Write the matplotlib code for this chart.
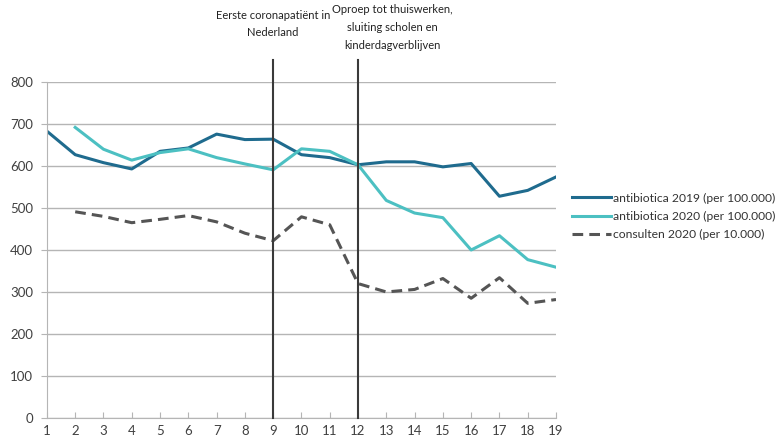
import numpy as np
import matplotlib.pyplot as plt

weeks = list(range(1, 20))
ab2019 = [683, 627, 608, 593, 635, 643, 676, 663, 664, 627, 620, 603, 610, 610, 598, 606, 528, 542, 574]
weeks2020 = list(range(2, 20))
ab2020 = [692, 640, 614, 632, 641, 620, 605, 591, 641, 635, 603, 518, 488, 477, 400, 434, 377, 359]
consulten = [491, 480, 465, 473, 482, 467, 440, 422, 479, 460, 320, 300, 306, 332, 285, 334, 273, 282]

events = [9, 12]
event_labels = ["Eerste coronapatiënt in\nNederland",
                "Oproep tot thuiswerken,\nsluiting scholen en\nkinderdagverblijven"]

plt.rcParams['font.family'] = ['Lato', 'DejaVu Sans']

fig = plt.figure(figsize=(7.82, 4.46), dpi=100)
ax = fig.add_axes([0.060, 0.063, 0.651, 0.753])

ax.plot(weeks, ab2019, color="#1f6b8e", lw=2.2, label="antibiotica 2019 (per 100.000)")
ax.plot(weeks2020, ab2020, color="#4cc0c2", lw=2.2, label="antibiotica 2020 (per 100.000)")
ax.plot(weeks2020, consulten, color="#555555", lw=2.2, ls=(0, (3.5, 2)), label="consulten 2020 (per 10.000)")

for x in events:
    ax.axvline(x, ymin=0, ymax=1.065, color="#3a3a3a", lw=1.5, clip_on=False, zorder=5)

ax.text(9, 1.215, event_labels[0], transform=ax.get_xaxis_transform(), ha="center", va="top",
        fontsize=8, linespacing=1.65, color="#222222")
ax.text(13.2, 1.232, event_labels[1], transform=ax.get_xaxis_transform(), ha="center", va="top",
        fontsize=8, linespacing=1.75, color="#222222")

ax.set_xlim(1, 19)
ax.set_ylim(0, 800)
ax.set_xticks(weeks)
ax.set_yticks(np.arange(0, 801, 100))
ax.grid(axis="y", color="#b5b5b5", lw=1)
ax.set_axisbelow(True)
for s in ["top", "right"]:
    ax.spines[s].set_visible(False)
ax.spines["left"].set_color("#b5b5b5")
ax.spines["bottom"].set_color("#b5b5b5")
ax.tick_params(axis="y", length=4, color="#b5b5b5", labelsize=9.5, labelcolor="#404040", pad=6)
ax.tick_params(axis="x", direction="in", length=4, color="#b5b5b5", labelsize=9.5, labelcolor="#404040", pad=5)

ax.legend(loc="center left", bbox_to_anchor=(1.022, 0.6), borderaxespad=0, frameon=False, fontsize=8.7,
          handlelength=3.2, handletextpad=0.2, labelspacing=0.6, labelcolor="#333333")

fig.savefig("out.png", dpi=100)
